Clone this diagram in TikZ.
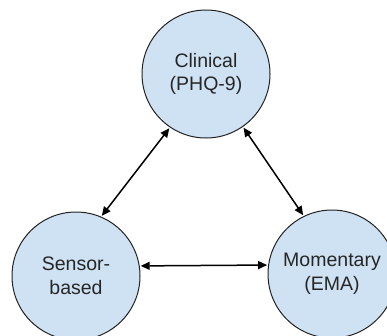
\documentclass[tikz,border=0pt]{standalone}
\usepackage{fontspec}
\setmainfont{Liberation Sans}
\usetikzlibrary{arrows.meta}
\definecolor{nodefill}{HTML}{CFE2F3}
\definecolor{nodeline}{HTML}{222222}
\tikzset{
  circ/.style={circle, draw=nodeline, line width=1pt, fill=nodefill, minimum size=128pt, inner sep=0pt, align=center, font=\fontsize{19.5pt}{23.6pt}\selectfont, text=black!85},
  link/.style={{Triangle[length=9pt,width=8pt]}-{Triangle[length=9pt,width=8pt]}, line width=1.5pt, black, shorten <=1pt, shorten >=1pt}
}
\begin{document}
\begin{tikzpicture}[x=1pt,y=-1pt]
\useasboundingbox (0,0) rectangle (387,335);
\node[circ] (top) at (206,74) {Clinical\\(PHQ-9)};
\node[circ] (left) at (76,276) {Sensor-\\based};
\node[circ] (right) at (332,274) {Momentary\\(EMA)};
\draw[link] (top.236) -- (left.67);
\draw[link] (top.305) -- (right.116);
\draw[link] (left.9) -- (right.172);
\end{tikzpicture}
\end{document}
